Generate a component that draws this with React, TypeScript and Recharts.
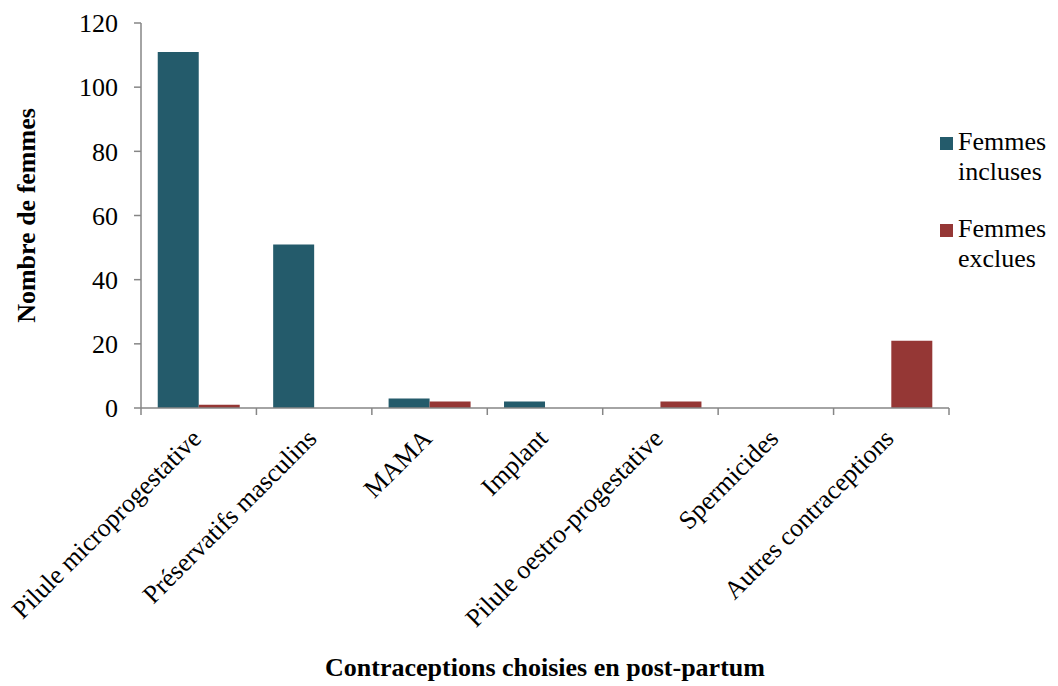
import React from 'react';
import { BarChart, Bar, XAxis, YAxis, Label } from 'recharts';

const categories = [
  'Pilule microprogestative',
  'Préservatifs masculins',
  'MAMA',
  'Implant',
  'Pilule oestro-progestative',
  'Spermicides',
  'Autres contraceptions',
];
const incluses = [111, 51, 3, 2, 0, 0, 0];
const exclues = [1, 0, 2, 0, 2, 0, 21];
const yTicks = [0, 20, 40, 60, 80, 100, 120];

const data = categories.map((name, i) => ({ name, incluses: incluses[i], exclues: exclues[i] }));

const FONT = "'Times New Roman', 'Liberation Serif', serif";
const AXIS = '#868686';
const BLUE = '#245B6B';
const RED = '#953735';
const BAND = 808 / categories.length;
const FS = 26;

const XTick = (props: any) => {
  const { x, y, payload, index } = props;
  const left = x - BAND / 2;
  const tx = x + 4;
  const ty = y + 24;
  return (
    <g>
      <line x1={left} y1={y - 8} x2={left} y2={y - 1} stroke={AXIS} strokeWidth={1.5} />
      {index === categories.length - 1 && (
        <line x1={x + BAND / 2} y1={y - 8} x2={x + BAND / 2} y2={y - 1} stroke={AXIS} strokeWidth={1.5} />
      )}
      <text
        x={tx}
        y={ty}
        transform={`rotate(-45, ${tx}, ${ty})`}
        textAnchor="end"
        style={{ fontFamily: FONT, fontSize: FS }}
        fill="#000"
      >
        {payload.value}
      </text>
    </g>
  );
};

const legendItems = [
  { c: BLUE, l: ['Femmes', 'incluses'] },
  { c: RED, l: ['Femmes', 'exclues'] },
];

const App: React.FC = () => {
  return (
    <div style={{ position: 'absolute', left: 0, top: 0, width: 1058, height: 686, background: '#fff', fontFamily: FONT }}>
      <BarChart
        width={1058}
        height={686}
        data={data}
        margin={{ top: 23, right: 109, left: 81, bottom: 48 }}
        barCategoryGap="14.5%"
        barGap={0}
        style={{ fontFamily: FONT }}
      >
        <XAxis
          dataKey="name"
          interval={0}
          height={230}
          stroke={AXIS}
          strokeWidth={1.5}
          tickLine={false}
          tick={<XTick />}
        >
          <Label
            value="Contraceptions choisies en post-partum"
            position="insideBottom"
            offset={-38}
            style={{ fontFamily: FONT, fontSize: FS, fontWeight: 'bold', fill: '#000' }}
          />
        </XAxis>
        <YAxis
          width={60}
          domain={[0, 120]}
          ticks={yTicks}
          stroke={AXIS}
          strokeWidth={1.5}
          tickSize={7}
          tick={{ style: { fontFamily: FONT, fontSize: FS }, fontSize: FS, fill: '#000', dx: -14 }}
        >
          <Label
            value="Nombre de femmes"
            angle={-90}
            position="center"
            dx={-85}
            style={{ fontFamily: FONT, fontSize: FS, fontWeight: 'bold', fill: '#000', textAnchor: 'middle' }}
          />
        </YAxis>
        <Bar dataKey="incluses" fill={BLUE} isAnimationActive={false} />
        <Bar dataKey="exclues" fill={RED} isAnimationActive={false} />
      </BarChart>
      <div
        style={{
          position: 'absolute',
          left: 940,
          top: 127,
          fontSize: FS,
          lineHeight: '30px',
          color: '#000',
        }}
      >
        {legendItems.map((it, i) => (
          <div key={i} style={{ display: 'flex', alignItems: 'flex-start', marginBottom: i === 0 ? 27 : 0 }}>
            <div style={{ width: 13, height: 13, background: it.c, marginTop: 10, marginRight: 5 }} />
            <div>
              {it.l[0]}
              <br />
              {it.l[1]}
            </div>
          </div>
        ))}
      </div>
    </div>
  );
};

export default App;
